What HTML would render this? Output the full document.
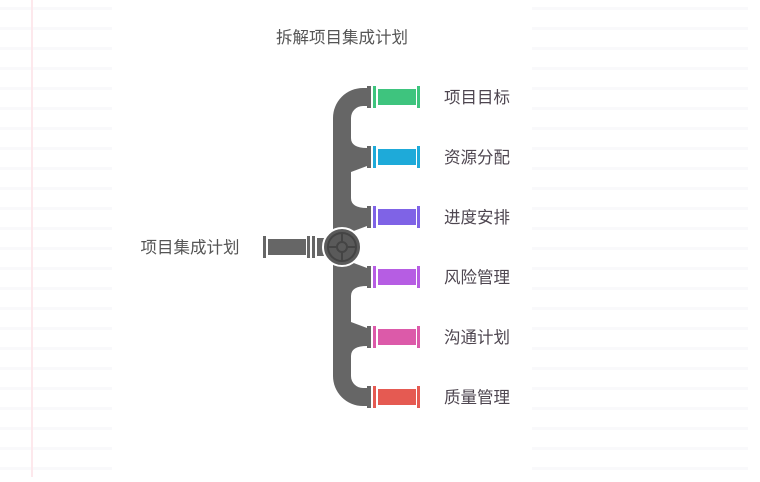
<!DOCTYPE html>
<html><head><meta charset="utf-8"><style>
body{margin:0;background:#fff;width:760px;height:477px;overflow:hidden;font-family:"Liberation Sans","Noto Sans CJK SC",sans-serif}
</style></head><body>
<svg width="760" height="477" viewBox="0 0 760 477" xmlns="http://www.w3.org/2000/svg">
<g fill="#f9f9fb">
<rect x="0" y="7" width="112" height="3"/><rect x="0" y="27" width="112" height="3"/><rect x="0" y="47" width="112" height="3"/><rect x="0" y="67" width="112" height="3"/><rect x="0" y="87" width="112" height="3"/><rect x="0" y="107" width="112" height="3"/><rect x="0" y="127" width="112" height="3"/><rect x="0" y="147" width="112" height="3"/><rect x="0" y="167" width="112" height="3"/><rect x="0" y="187" width="112" height="3"/><rect x="0" y="207" width="112" height="3"/><rect x="0" y="227" width="112" height="3"/><rect x="0" y="247" width="112" height="3"/><rect x="0" y="267" width="112" height="3"/><rect x="0" y="287" width="112" height="3"/><rect x="0" y="307" width="112" height="3"/><rect x="0" y="327" width="112" height="3"/><rect x="0" y="347" width="112" height="3"/><rect x="0" y="367" width="112" height="3"/><rect x="0" y="387" width="112" height="3"/><rect x="0" y="407" width="112" height="3"/><rect x="0" y="427" width="112" height="3"/><rect x="0" y="447" width="112" height="3"/><rect x="0" y="467" width="112" height="3"/>
<rect x="532" y="7" width="216" height="3"/><rect x="532" y="27" width="216" height="3"/><rect x="532" y="47" width="216" height="3"/><rect x="532" y="67" width="216" height="3"/><rect x="532" y="87" width="216" height="3"/><rect x="532" y="107" width="216" height="3"/><rect x="532" y="127" width="216" height="3"/><rect x="532" y="147" width="216" height="3"/><rect x="532" y="167" width="216" height="3"/><rect x="532" y="187" width="216" height="3"/><rect x="532" y="207" width="216" height="3"/><rect x="532" y="227" width="216" height="3"/><rect x="532" y="247" width="216" height="3"/><rect x="532" y="267" width="216" height="3"/><rect x="532" y="287" width="216" height="3"/><rect x="532" y="307" width="216" height="3"/><rect x="532" y="327" width="216" height="3"/><rect x="532" y="347" width="216" height="3"/><rect x="532" y="367" width="216" height="3"/><rect x="532" y="387" width="216" height="3"/><rect x="532" y="407" width="216" height="3"/><rect x="532" y="427" width="216" height="3"/><rect x="532" y="447" width="216" height="3"/><rect x="532" y="467" width="216" height="3"/>
</g>
<rect x="31" y="0" width="2" height="477" fill="#fde8ec"/>
<text x="342" y="43" font-size="16.5" fill="#555" text-anchor="middle">拆解项目集成计划</text>
<text x="190" y="253" font-size="16.5" fill="#555" text-anchor="middle">项目集成计划</text>
<g fill="#666">
<path d="M333 247 L333 118 A30 30 0 0 1 363 88 L367 88 L367 106 L363 106 A12 12 0 0 0 351 118 L351 247 Z"/>
<path d="M333 247 L333 376 A30 30 0 0 0 363 406 L367 406 L367 388 L363 388 A12 12 0 0 1 351 376 L351 247 Z"/>
<path d="M351 138 Q351 148 367 148 L367 166 L351 172 Q351 162 351 138Z"/>
<path d="M351 198 Q351 208 367 208 L367 226 L351 232 Z"/>
<path d="M351 262 L367 268 L367 286 Q351 286 351 296 Z"/>
<path d="M351 322 L367 328 L367 346 Q351 346 351 356 Z"/>
<rect x="263" y="236" width="3" height="22"/>
<rect x="268" y="239" width="38" height="16"/>
<rect x="307" y="236" width="3" height="22"/><rect x="312" y="236" width="3" height="22"/><rect x="317" y="238" width="8" height="18"/>
</g>
<circle cx="342" cy="247" r="19" fill="#5a5a5a" stroke="#fff" stroke-width="2"/>
<circle cx="342" cy="247" r="14" fill="none" stroke="#444" stroke-width="2"/>
<circle cx="342" cy="247" r="5" fill="none" stroke="#444" stroke-width="2"/>
<path d="M342 233v9M342 252v9M328 247h9M347 247h9" stroke="#444" stroke-width="2"/>
<g>
<rect x="367" y="86" width="4" height="22" fill="#666"/><rect x="373" y="86" width="3" height="22" fill="#3ec47e"/><rect x="378" y="89" width="38" height="16" fill="#3ec47e"/><rect x="417" y="86" width="3" height="22" fill="#3ec47e"/>
<rect x="367" y="146" width="4" height="22" fill="#666"/><rect x="373" y="146" width="3" height="22" fill="#1eaad9"/><rect x="378" y="149" width="38" height="16" fill="#1eaad9"/><rect x="417" y="146" width="3" height="22" fill="#1eaad9"/>
<rect x="367" y="206" width="4" height="22" fill="#666"/><rect x="373" y="206" width="3" height="22" fill="#7f63e6"/><rect x="378" y="209" width="38" height="16" fill="#7f63e6"/><rect x="417" y="206" width="3" height="22" fill="#7f63e6"/>
<rect x="367" y="266" width="4" height="22" fill="#666"/><rect x="373" y="266" width="3" height="22" fill="#b65de3"/><rect x="378" y="269" width="38" height="16" fill="#b65de3"/><rect x="417" y="266" width="3" height="22" fill="#b65de3"/>
<rect x="367" y="326" width="4" height="22" fill="#666"/><rect x="373" y="326" width="3" height="22" fill="#dc5aa9"/><rect x="378" y="329" width="38" height="16" fill="#dc5aa9"/><rect x="417" y="326" width="3" height="22" fill="#dc5aa9"/>
<rect x="367" y="386" width="4" height="22" fill="#666"/><rect x="373" y="386" width="3" height="22" fill="#e55a52"/><rect x="378" y="389" width="38" height="16" fill="#e55a52"/><rect x="417" y="386" width="3" height="22" fill="#e55a52"/>
</g>
<g font-size="16.5" fill="#4e4650">
<text x="444" y="103">项目目标</text>
<text x="444" y="163">资源分配</text>
<text x="444" y="223">进度安排</text>
<text x="444" y="283">风险管理</text>
<text x="444" y="343">沟通计划</text>
<text x="444" y="403">质量管理</text>
</g>
</svg>
</body></html>
